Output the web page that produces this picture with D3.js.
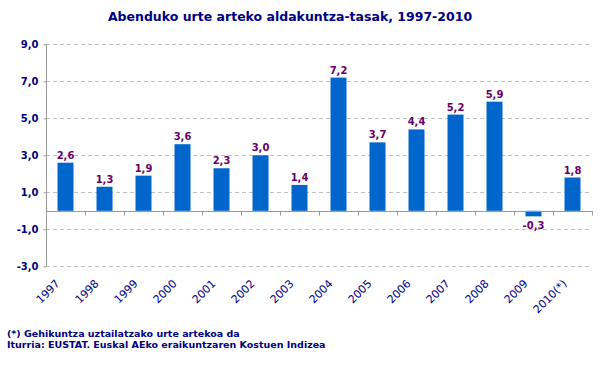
<!DOCTYPE html>
<html>
<head>
<meta charset="utf-8">
<script src="https://cdn.jsdelivr.net/npm/d3@7"></script>
<style>
  body { margin: 0; background: #fff; }
  svg { display: block; font-family: "DejaVu Sans", Verdana, sans-serif; }
</style>
</head>
<body>
<svg id="chart" width="606" height="371"></svg>
<script>
// ── DATA ─────────────────────────────────────────────────────────────────────
const years  = ['1997','1998','1999','2000','2001','2002','2003','2004','2005','2006','2007','2008','2009','2010(*)'];
const rates  = [2.6, 1.3, 1.9, 3.6, 2.3, 3.0, 1.4, 7.2, 3.7, 4.4, 5.2, 5.9, -0.3, 1.8];
const yTicks = [9, 7, 5, 3, 1, -1, -3];
const title  = 'Abenduko urte arteko aldakuntza-tasak, 1997-2010';
const notes  = ['(*) Gehikuntza uztailatzako urte artekoa da',
                'Iturria: EUSTAT. Euskal AEko eraikuntzaren Kostuen Indizea'];

// ── SETUP ────────────────────────────────────────────────────────────────────
const navy = '#000080', purple = '#660066', blue = '#0066cc', axisCol = '#999999';
const fmt = v => d3.format('.1f')(v).replace('.', ',').replace('−', '-');

const svg = d3.select('#chart');
const pLeft = 46, pRight = 592, pTop = 44.3, pBottom = 266.3;

const x = d3.scaleBand().domain(years).range([pLeft, pRight]).paddingInner(0.59).paddingOuter(0.295);
const y = d3.scaleLinear().domain([-3, 9]).range([pBottom, pTop]);

svg.append('text')
  .attr('x', 290).attr('y', 21)
  .attr('text-anchor', 'middle')
  .attr('font-size', 12.5).attr('font-weight', 'bold')
  .attr('fill', navy)
  .text(title);

// gridlines
svg.append('g')
  .selectAll('line').data(yTicks).join('line')
  .attr('x1', pLeft).attr('x2', 590)
  .attr('y1', d => Math.round(y(d)) + 0.5).attr('y2', d => Math.round(y(d)) + 0.5)
  .attr('stroke', '#c0c0c0').attr('stroke-dasharray', '4,3');

// y axis
const yAxis = svg.append('g')
  .attr('transform', `translate(${pLeft + 0.5},0)`)
  .call(d3.axisLeft(y).tickValues(yTicks).tickSize(3).tickPadding(5).tickFormat(fmt));
yAxis.select('.domain').attr('stroke', axisCol).attr('d', `M0,${pTop}V${pBottom}`);
yAxis.selectAll('.tick line').attr('stroke', axisCol);
yAxis.selectAll('.tick text')
  .attr('font-family', '"DejaVu Sans", Verdana, sans-serif')
  .attr('font-size', 10).attr('font-weight', 'bold').attr('fill', navy);

// bars
svg.append('g')
  .selectAll('rect').data(rates).join('rect')
  .attr('x', (d, i) => x(years[i]))
  .attr('width', x.bandwidth())
  .attr('y', d => y(Math.max(0, d)))
  .attr('height', d => Math.abs(y(d) - y(0)))
  .attr('fill', blue);

// zero axis with category ticks
const y0 = Math.round(y(0)) + 0.5;
const xAxis = svg.append('g').attr('transform', `translate(0,${y0})`);
xAxis.append('line').attr('x1', pLeft).attr('x2', pRight + 1).attr('stroke', axisCol);
xAxis.selectAll('line.tk').data(d3.range(years.length + 1)).join('line')
  .attr('class', 'tk')
  .attr('x1', i => Math.round(pLeft + i * x.step()) + 0.5)
  .attr('x2', i => Math.round(pLeft + i * x.step()) + 0.5)
  .attr('y1', 0).attr('y2', 4)
  .attr('stroke', axisCol);

// value labels
svg.append('g')
  .selectAll('text').data(rates).join('text')
  .attr('x', (d, i) => x(years[i]) + x.bandwidth() / 2)
  .attr('y', d => d >= 0 ? y(d) - 4 : y(d) + 13)
  .attr('text-anchor', 'middle')
  .attr('font-size', 10).attr('font-weight', 'bold')
  .attr('fill', purple)
  .text(fmt);

// category labels
svg.append('g')
  .selectAll('text').data(years).join('text')
  .attr('transform', d => `translate(${x(d) + x.bandwidth() / 2 - 5},${pBottom + 18}) rotate(-45)`)
  .attr('text-anchor', 'end')
  .attr('font-size', 11)
  .attr('fill', navy)
  .text(d => d);

// notes
svg.append('g')
  .selectAll('text').data(notes).join('text')
  .attr('x', 7).attr('y', (d, i) => 337 + i * 11)
  .attr('font-size', 9.5).attr('font-weight', 'bold')
  .attr('fill', navy)
  .text(d => d);
</script>
</body>
</html>
